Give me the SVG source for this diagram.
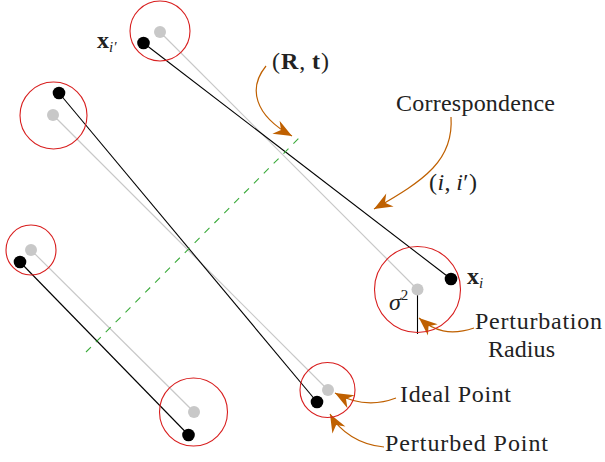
<svg xmlns="http://www.w3.org/2000/svg" width="605" height="462" viewBox="0 0 605 462">
<style>
.ideal{stroke:#c8c8c8;stroke-width:1.2;fill:none}
.pert{stroke:#000;stroke-width:1.1;fill:none}
.gdot{fill:#c8c8c8}
.bdot{fill:#000}
.ring{stroke:#d81e1e;stroke-width:1.1;fill:none}
.arr{stroke:#bf6000;stroke-width:1.2;fill:none;marker-end:url(#head)}
.lbl{font-family:"Liberation Serif","Times New Roman",serif;font-size:24px;fill:#222}
.it{font-style:italic}
.bf{font-weight:bold}
</style>
<defs>
<marker id="head" markerUnits="userSpaceOnUse" markerWidth="20" markerHeight="16" viewBox="-16 -7 17 14" refX="0" refY="0" orient="auto">
<path d="M0,0 L-16,-6.5 L-11,0 L-16,6.5 Z" fill="#bf6000"/>
</marker>
</defs>
<rect width="605" height="462" fill="#fff"/>
<g id="connectors">
<line class="ideal" x1="160" y1="32" x2="417.5" y2="289.5"/>
<line class="pert" x1="143.5" y1="43" x2="451" y2="279"/>
<line class="ideal" x1="53" y1="115" x2="328" y2="390"/>
<line class="pert" x1="59" y1="93" x2="317" y2="402"/>
<line class="ideal" x1="31" y1="250" x2="194" y2="412"/>
<line class="pert" x1="20" y1="262" x2="188.5" y2="435"/>
<line x1="86" y1="352" x2="303" y2="134" stroke="#3aaa3a" stroke-width="1.1" stroke-dasharray="7,7"/>
<line x1="417.5" y1="290" x2="417.5" y2="334" stroke="#000" stroke-width="1.1"/>
<path class="arr" d="M266,66 C248,88 254,115 292,136"/>
<path class="arr" d="M451,117 C454,160 425,180 374,209"/>
<path class="arr" d="M474,328 C450,336 434,331 419,318"/>
<path class="arr" d="M396,398 C375,406 355,404 335,393"/>
<path class="arr" d="M384,447 C360,445 340,432 330,414"/>
</g>
<g id="p1a"><circle class="ring" cx="160" cy="31" r="30"/><circle class="gdot" cx="160" cy="32" r="6"/><circle class="bdot" cx="143.5" cy="43" r="6.3"/></g>
<g id="p1b"><circle class="ring" cx="417.5" cy="289.5" r="43"/><circle class="gdot" cx="417.5" cy="289.5" r="6"/><circle class="bdot" cx="451" cy="279" r="6.3"/></g>
<g id="p2a"><circle class="ring" cx="53.5" cy="115.5" r="33.5"/><circle class="gdot" cx="53" cy="115" r="6"/><circle class="bdot" cx="59" cy="93" r="6.3"/></g>
<g id="p2b"><circle class="ring" cx="327.5" cy="390" r="27.5"/><circle class="gdot" cx="328" cy="390" r="6"/><circle class="bdot" cx="317" cy="402" r="6.3"/></g>
<g id="p3a"><circle class="ring" cx="31" cy="250" r="25"/><circle class="gdot" cx="31" cy="250" r="6"/><circle class="bdot" cx="20" cy="262" r="6.3"/></g>
<g id="p3b"><circle class="ring" cx="193.5" cy="412" r="34"/><circle class="gdot" cx="194" cy="412" r="6"/><circle class="bdot" cx="188.5" cy="435" r="6.3"/></g>
<g id="labels">
<text class="lbl" x="97" y="48"><tspan class="bf">x</tspan><tspan class="it" font-size="15" dy="4">i′</tspan></text>
<text class="lbl" x="467" y="284"><tspan class="bf">x</tspan><tspan class="it" font-size="15" dy="4">i</tspan></text>
<text class="lbl" x="389" y="310"><tspan class="it">σ</tspan><tspan font-size="15" dy="-10">2</tspan></text>
<text class="lbl" x="272" y="69" textLength="57">(<tspan class="bf">R</tspan>,<tspan class="bf">&#8201;t</tspan>)</text>
<text class="lbl" x="396" y="111" textLength="159">Correspondence</text>
<text class="lbl" x="429" y="190" textLength="48">(<tspan class="it">i</tspan>,&#8201;<tspan class="it">i</tspan>′)</text>
<text class="lbl" x="475" y="329" textLength="127">Perturbation</text>
<text class="lbl" x="488" y="357" textLength="67">Radius</text>
<text class="lbl" x="400" y="402" textLength="111">Ideal Point</text>
<text class="lbl" x="385" y="451" textLength="163">Perturbed Point</text>
</g>
</svg>
